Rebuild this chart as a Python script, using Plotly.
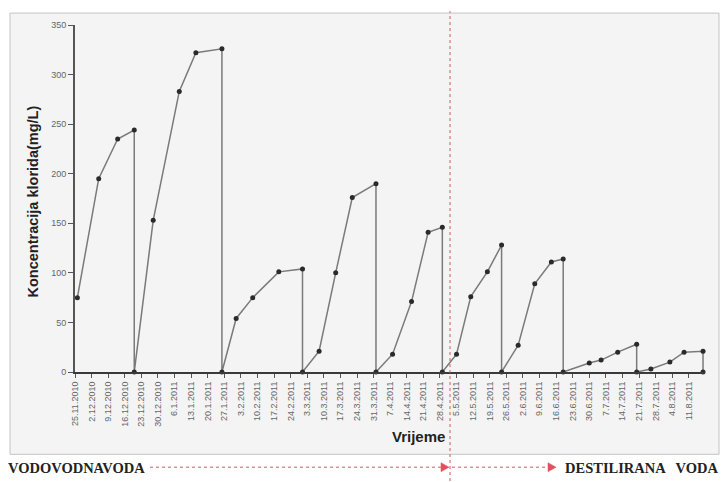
import plotly.graph_objects as go

# ---------------- data ----------------
sample_dates = [
    "2010-11-26", "2010-12-05", "2010-12-13", "2010-12-20", "2010-12-20",
    "2010-12-28", "2011-01-08", "2011-01-15", "2011-01-26", "2011-01-26",
    "2011-02-01", "2011-02-08", "2011-02-19", "2011-03-01", "2011-03-01",
    "2011-03-08", "2011-03-15", "2011-03-22", "2011-04-01", "2011-04-01",
    "2011-04-08", "2011-04-16", "2011-04-23", "2011-04-29", "2011-04-29",
    "2011-05-05", "2011-05-11", "2011-05-18", "2011-05-24", "2011-05-24",
    "2011-05-31", "2011-06-07", "2011-06-14", "2011-06-19", "2011-06-19",
    "2011-06-30", "2011-07-05", "2011-07-12", "2011-07-20", "2011-07-20",
    "2011-07-26", "2011-08-03", "2011-08-09", "2011-08-17", "2011-08-17",
]
chloride_mg_l = [
    75, 195, 235, 244, 0,
    153, 283, 322, 326, 0,
    54, 75, 101, 104, 0,
    21, 100, 176, 190, 0,
    18, 71, 141, 146, 0,
    18, 76, 101, 128, 0,
    27, 89, 111, 114, 0,
    9, 12, 20, 28, 0,
    3, 10, 20, 21, 0,
]
y_ticks = [0, 50, 100, 150, 200, 250, 300, 350]
x_start = "2010-11-25"
x_end = "2011-08-17 20:00"
switch_label_left = "VODOVODNAVODA"
switch_label_right = "DESTILIRANA   VODA"
y_title = "Koncentracija klorida(mg/L)"
x_title = "Vrijeme"

# ---------------- layout geometry ----------------
# the page body adds an 8px offset, so the figure is drawn 8px smaller
OFF = 8
W, H = 728 - OFF, 482 - OFF
L, R, T, B = 67, 23, 14, 110
PW, PH = W - L - R, H - T - B


def px(x):  # page pixel -> paper x
    return (x - OFF - L) / PW


def py(y):  # page pixel -> paper y
    return (H - B - (y - OFF)) / PH


RED = "#e0505f"

fig = go.Figure()
fig.add_trace(go.Scatter(
    x=sample_dates, y=chloride_mg_l, mode="lines+markers",
    line=dict(color="#7a7a7a", width=1.5),
    marker=dict(color="#2a2a2a", size=5),
    cliponaxis=False, showlegend=False,
))

shapes = [
    # gray panel
    dict(type="rect", xref="paper", yref="paper", x0=px(10), x1=px(719),
         y0=py(455), y1=py(10), fillcolor="#f4f4f4",
         line=dict(color="#c4c4c4", width=1), layer="below"),
    # red vertical dotted divider
    dict(type="line", xref="paper", yref="paper", x0=px(450), x1=px(450),
         y0=py(482), y1=py(8), line=dict(color=RED, width=1, dash="dot"),
         layer="above"),
    # bottom arrows
    dict(type="line", xref="paper", yref="paper", x0=px(150), x1=px(442),
         y0=py(468), y1=py(468), line=dict(color=RED, width=1, dash="dot")),
    dict(type="path", xref="paper", yref="paper",
         path=f"M {px(441)} {py(463.5)} L {px(449)} {py(468)} L {px(441)} {py(472.5)} Z",
         fillcolor=RED, line=dict(color=RED, width=0.5)),
    dict(type="line", xref="paper", yref="paper", x0=px(452), x1=px(549),
         y0=py(468), y1=py(468), line=dict(color=RED, width=1, dash="dot")),
    dict(type="path", xref="paper", yref="paper",
         path=f"M {px(548)} {py(463.5)} L {px(556)} {py(468)} L {px(548)} {py(472.5)} Z",
         fillcolor=RED, line=dict(color=RED, width=0.5)),
]

annotations = [
    dict(text=y_title, xref="paper", yref="paper", x=px(33), y=py(200),
         textangle=-90, showarrow=False, xanchor="center", yanchor="middle",
         font=dict(family="Liberation Sans, Arial", size=14.5, color="#222", weight="bold")),
    dict(text=x_title, xref="paper", yref="paper", x=px(419), y=py(437),
         showarrow=False, xanchor="center", yanchor="middle",
         font=dict(family="Liberation Sans, Arial", size=15, color="#222", weight="bold")),
    dict(text=switch_label_left, xref="paper", yref="paper", x=px(6), y=py(469),
         showarrow=False, xanchor="left", yanchor="middle",
         font=dict(family="Liberation Serif, Times New Roman", size=14.5, color="#222", weight="bold")),
    dict(text=switch_label_right, xref="paper", yref="paper", x=px(563), y=py(469),
         showarrow=False, xanchor="left", yanchor="middle",
         font=dict(family="Liberation Serif, Times New Roman", size=14.5, color="#222", weight="bold")),
]

fig.update_layout(
    width=W, height=H,
    margin=dict(l=L, r=R, t=T, b=B, pad=0),
    paper_bgcolor="white", plot_bgcolor="rgba(0,0,0,0)",
    shapes=shapes, annotations=annotations,
    xaxis=dict(
        type="date", range=[x_start, x_end],
        tick0=x_start, dtick=7 * 24 * 3600 * 1000, tickformat="%-d.%-m.%Y",
        tickangle=-90, ticks="outside", ticklen=4, tickcolor="#555",
        tickfont=dict(family="Liberation Sans, Arial", size=9, color="#666"),
        showline=True, linecolor="#3a3a3a", linewidth=2,
        showgrid=False, zeroline=False,
    ),
    yaxis=dict(
        range=[0, 350], tickvals=y_ticks,
        ticks="outside", ticklen=5, tickcolor="#555",
        tickfont=dict(family="Liberation Sans, Arial", size=9, color="#666"),
        showline=True, linecolor="#555", linewidth=2,
        showgrid=False, zeroline=False,
    ),
)

fig.write_html("out.html")
